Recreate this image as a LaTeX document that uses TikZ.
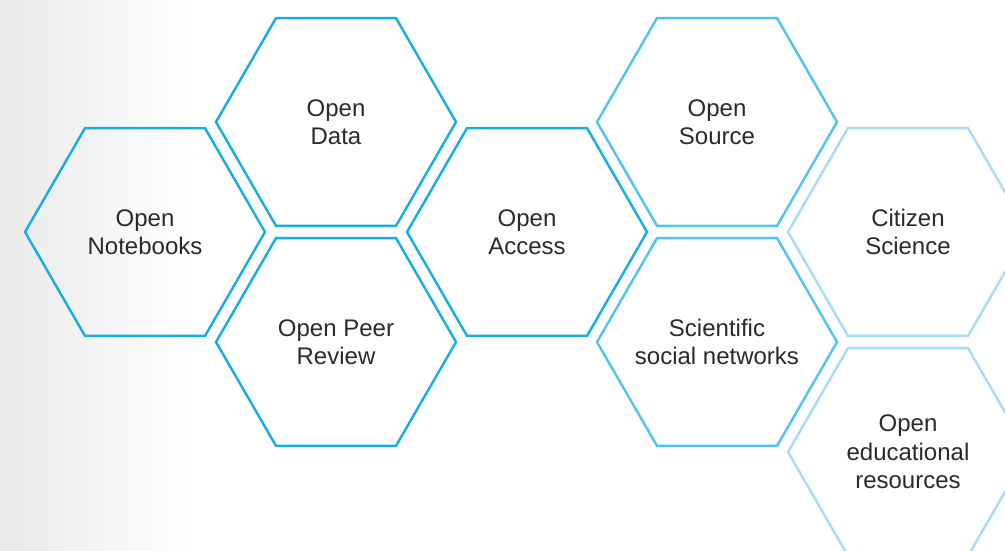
\documentclass[tikz,border=0pt]{standalone}
\usepackage{fontspec}
\setmainfont{Liberation Sans}
\usetikzlibrary{shapes.geometric}
\definecolor{hexA}{HTML}{14ADE4}
\definecolor{hexB}{HTML}{4EC4F0}
\definecolor{hexC}{HTML}{A6DCF4}
\definecolor{txt}{HTML}{2A2A2A}
\definecolor{bgl}{HTML}{E4E4E4}
\tikzset{
  hexbox/.style={regular polygon, regular polygon sides=6, minimum size=240pt,
    inner sep=0pt, line width=2.4pt},
  hexa/.style={hexbox, draw=hexA},
  hexb/.style={hexbox, draw=hexB},
  hexc/.style={hexbox, draw=hexC},
  hextext/.style={inner sep=0pt, text=txt, align=center,
    font=\fontsize{24pt}{28.5pt}\selectfont},
}
\begin{document}
\begin{tikzpicture}[x=1pt,y=1pt]
\useasboundingbox (0,0) rectangle (1005,-550);
\clip (0,0) rectangle (1005,-550);
\fill[white] (0,0) rectangle (1005,-550);
\shade[left color=bgl, right color=white] (-45,0) rectangle (190,-550);
\node[hexa] (nb) at (145,-232) {};
\node[hexa] (od) at (336,-122) {};
\node[hexa] (opr) at (336,-342) {};
\node[hexa] (oa) at (527,-232) {};
\node[hexb] (os) at (717,-122) {};
\node[hexb] (ssn) at (717,-342) {};
\node[hexc] (cs) at (908,-232) {};
\node[hexc] (oer) at (908,-452) {};
\node[hextext] (tnb) at (nb) {Open\\Notebooks};
\node[hextext] (tod) at (od) {Open\\Data};
\node[hextext] (topr) at (opr) {Open Peer\\Review};
\node[hextext] (toa) at (oa) {Open\\Access};
\node[hextext] (tos) at (os) {Open\\Source};
\node[hextext] (tssn) at (ssn) {Scientific\\social networks};
\node[hextext] (tcs) at (cs) {Citizen\\Science};
\node[hextext] (toer) at (oer) {Open\\educational\\resources};
\end{tikzpicture}
\end{document}
